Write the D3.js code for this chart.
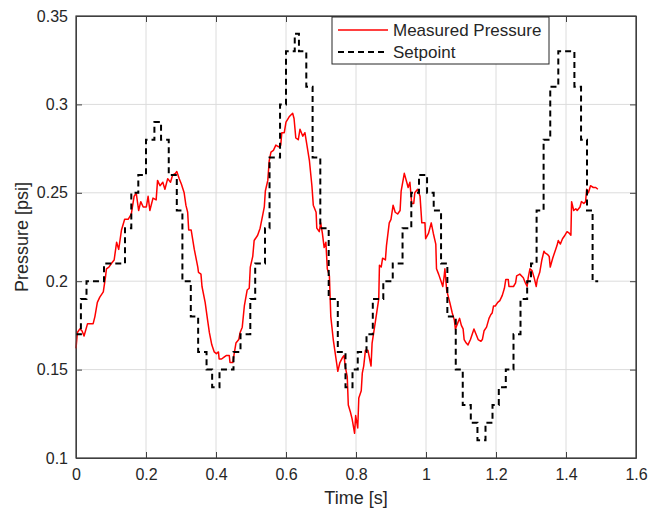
<!DOCTYPE html>
<html lang="en">
<head>
<meta charset="UTF-8">
<title>Pressure vs Setpoint</title>
<script src="https://d3js.org/d3.v7.min.js"></script>
<style>
  body { margin: 0; background: #fff; }
  svg text { font-family: "Liberation Sans", Arial, sans-serif; fill: #262626; }
</style>
</head>
<body>
<svg id="chart"></svg>
<script>
// measured pressure samples [s], [psi]
var timeMeasured = [0.000,0.004,0.011,0.017,0.023,0.033,0.049,0.054,0.061,0.068,0.078,0.084,0.087,0.094,0.101,0.109,0.116,0.122,0.130,0.139,
  0.149,0.158,0.166,0.172,0.179,0.185,0.192,0.201,0.206,0.211,0.220,0.229,0.233,0.240,0.248,0.254,0.262,0.270,0.276,0.284,
  0.288,0.295,0.301,0.309,0.314,0.319,0.322,0.329,0.338,0.348,0.350,0.357,0.360,0.369,0.376,0.381,0.388,0.395,0.401,0.407,
  0.409,0.416,0.423,0.430,0.438,0.440,0.448,0.452,0.457,0.465,0.469,0.475,0.481,0.489,0.495,0.498,0.505,0.509,0.519,0.526,
  0.533,0.538,0.541,0.548,0.552,0.557,0.564,0.571,0.579,0.585,0.588,0.595,0.600,0.609,0.619,0.623,0.628,0.635,0.640,0.648,
  0.654,0.659,0.667,0.674,0.678,0.686,0.688,0.695,0.699,0.704,0.709,0.714,0.718,0.724,0.728,0.735,0.743,0.748,0.754,0.762,
  0.766,0.769,0.775,0.778,0.784,0.789,0.796,0.799,0.805,0.808,0.815,0.818,0.822,0.827,0.834,0.839,0.843,0.846,0.853,0.859,
  0.865,0.867,0.872,0.876,0.884,0.887,0.895,0.900,0.906,0.912,0.919,0.926,0.929,0.938,0.945,0.949,0.954,0.959,0.965,0.968,
  0.976,0.983,0.988,0.997,0.999,1.007,1.015,1.021,1.028,1.030,1.036,1.043,1.048,1.052,1.054,1.059,1.064,1.068,1.075,1.081,
  1.084,1.090,1.096,1.101,1.106,1.109,1.115,1.120,1.127,1.137,1.143,1.149,1.157,1.161,1.166,1.173,1.180,1.185,1.189,1.193,
  1.198,1.205,1.211,1.218,1.224,1.228,1.235,1.237,1.250,1.256,1.259,1.268,1.278,1.284,1.289,1.292,1.297,1.303,1.309,1.315,
  1.318,1.325,1.331,1.337,1.340,1.348,1.352,1.355,1.362,1.367,1.374,1.378,1.384,1.390,1.397,1.403,1.410,1.414,1.416,1.422,
  1.428,1.432,1.440,1.444,1.451,1.456,1.459,1.464,1.470,1.478,1.485,1.491];
var pressureMeasured = [0.162,0.171,0.173,0.172,0.169,0.176,0.176,0.180,0.188,0.191,0.194,0.202,0.207,0.208,0.210,0.212,0.222,0.218,0.229,0.235,
  0.235,0.238,0.248,0.250,0.240,0.245,0.242,0.242,0.248,0.240,0.247,0.246,0.257,0.254,0.256,0.252,0.258,0.256,0.260,0.261,
  0.262,0.258,0.255,0.250,0.243,0.239,0.229,0.229,0.218,0.208,0.205,0.204,0.197,0.188,0.178,0.171,0.164,0.160,0.159,0.160,
  0.156,0.156,0.157,0.158,0.158,0.154,0.154,0.159,0.165,0.167,0.171,0.174,0.186,0.195,0.196,0.208,0.214,0.223,0.226,0.230,
  0.237,0.242,0.251,0.257,0.268,0.273,0.274,0.277,0.276,0.277,0.284,0.284,0.290,0.293,0.295,0.292,0.281,0.280,0.286,0.282,
  0.284,0.278,0.268,0.254,0.243,0.239,0.230,0.228,0.233,0.227,0.219,0.222,0.207,0.203,0.180,0.167,0.156,0.149,0.154,0.157,
  0.158,0.152,0.146,0.130,0.126,0.122,0.114,0.124,0.117,0.134,0.138,0.148,0.152,0.161,0.161,0.156,0.152,0.165,0.174,0.182,
  0.190,0.209,0.208,0.213,0.212,0.220,0.233,0.235,0.243,0.239,0.238,0.240,0.251,0.261,0.256,0.253,0.256,0.244,0.244,0.250,
  0.252,0.248,0.233,0.233,0.224,0.227,0.233,0.227,0.221,0.207,0.204,0.200,0.197,0.203,0.207,0.195,0.191,0.188,0.182,0.178,
  0.173,0.176,0.179,0.175,0.173,0.167,0.165,0.164,0.167,0.173,0.170,0.167,0.166,0.167,0.172,0.174,0.179,0.181,0.182,0.186,
  0.186,0.188,0.189,0.192,0.196,0.201,0.201,0.197,0.197,0.199,0.203,0.204,0.202,0.199,0.197,0.202,0.207,0.206,0.202,0.197,
  0.201,0.205,0.212,0.217,0.216,0.215,0.214,0.208,0.213,0.216,0.220,0.223,0.221,0.224,0.226,0.228,0.227,0.226,0.245,0.240,
  0.241,0.240,0.242,0.245,0.244,0.245,0.252,0.250,0.254,0.253,0.253,0.252];

// setpoint: value held from each time until the next one
var timeSetpoint = [0.000,0.014,0.030,0.080,0.140,0.158,0.178,0.200,0.224,0.243,0.265,0.288,0.304,0.328,0.349,0.373,0.389,0.410,0.450,0.470,
  0.498,0.512,0.540,0.553,0.583,0.600,0.625,0.637,0.658,0.676,0.698,0.722,0.748,0.770,0.790,0.805,0.830,0.848,0.878,0.905,
  0.933,0.958,0.980,1.003,1.022,1.043,1.061,1.085,1.105,1.128,1.147,1.170,1.190,1.208,1.228,1.250,1.270,1.289,1.300,1.316,
  1.336,1.355,1.378,1.424,1.443,1.460,1.476,1.492];
var valueSetpoint = [0.17,0.19,0.20,0.21,0.23,0.25,0.26,0.28,0.29,0.28,0.26,0.24,0.20,0.18,0.16,0.15,0.14,0.15,0.16,0.17,
  0.19,0.21,0.23,0.27,0.30,0.33,0.34,0.33,0.31,0.27,0.23,0.19,0.16,0.14,0.15,0.16,0.17,0.19,0.20,0.21,
  0.23,0.25,0.26,0.25,0.24,0.21,0.18,0.15,0.13,0.12,0.11,0.12,0.13,0.14,0.15,0.17,0.19,0.20,0.21,0.24,
  0.28,0.31,0.33,0.31,0.28,0.24,0.20,0.20];

var xTicks = [0, 0.2, 0.4, 0.6, 0.8, 1, 1.2, 1.4, 1.6];
var yTicks = [0.1, 0.15, 0.2, 0.25, 0.3, 0.35];
var seriesNames = ["Measured Pressure", "Setpoint"];

var width = 650, height = 516;
var margin = {top: 16, right: 14, bottom: 58, left: 76};
var w = width - margin.left - margin.right;
var h = height - margin.top - margin.bottom;

var svg = d3.select("#chart").attr("width", width).attr("height", height);
var g = svg.append("g").attr("transform", "translate(" + margin.left + "," + margin.top + ")");

var x = d3.scaleLinear().domain([0, 1.6]).range([0, w]);
var y = d3.scaleLinear().domain([0.1, 0.35]).range([h, 0]);

// grid
g.append("g").selectAll("line").data(xTicks).enter().append("line")
  .attr("x1", d => x(d)).attr("x2", d => x(d)).attr("y1", 0).attr("y2", h)
  .attr("stroke", "#dcdcdc").attr("stroke-width", 1);
g.append("g").selectAll("line").data(yTicks).enter().append("line")
  .attr("y1", d => y(d)).attr("y2", d => y(d)).attr("x1", 0).attr("x2", w)
  .attr("stroke", "#dcdcdc").attr("stroke-width", 1);

// axes, ticks pointing inward
var fmt = d3.format("~g");
g.append("g").attr("transform", "translate(0," + h + ")")
  .call(d3.axisBottom(x).tickValues(xTicks).tickFormat(fmt).tickSizeInner(-6).tickSizeOuter(0).tickPadding(11));
g.append("g")
  .call(d3.axisLeft(y).tickValues(yTicks).tickFormat(fmt).tickSizeInner(-6).tickSizeOuter(0).tickPadding(8));
g.append("g").call(d3.axisTop(x).tickValues(xTicks).tickFormat("").tickSizeInner(-6).tickSizeOuter(0));
g.append("g").attr("transform", "translate(" + w + ",0)")
  .call(d3.axisRight(y).tickValues(yTicks).tickFormat("").tickSizeInner(-6).tickSizeOuter(0));
g.selectAll(".domain, .tick line").attr("stroke", "#404040");
g.selectAll(".tick text").style("font-size", "16px").attr("fill", "#262626");

// data lines
var measured = timeMeasured.map((t, i) => [t, pressureMeasured[i]]);
var setpoint = timeSetpoint.map((t, i) => [t, valueSetpoint[i]]);

var line = d3.line().x(d => x(d[0])).y(d => y(d[1]));
var stepLine = d3.line().x(d => x(d[0])).y(d => y(d[1])).curve(d3.curveStepAfter);

g.append("path").datum(measured).attr("d", line)
  .attr("fill", "none").attr("stroke", "#ff0000").attr("stroke-width", 1.5).attr("stroke-linejoin", "round");
g.append("path").datum(setpoint).attr("d", stepLine)
  .attr("fill", "none").attr("stroke", "#000").attr("stroke-width", 2).attr("stroke-dasharray", "6,4");

// box
g.append("rect").attr("x", 0).attr("y", 0).attr("width", w).attr("height", h)
  .attr("fill", "none").attr("stroke", "#404040").attr("stroke-width", 1.2);

// axis labels
svg.append("text").attr("x", margin.left + w / 2).attr("y", 504)
  .attr("text-anchor", "middle").style("font-size", "18px").text("Time [s]");
svg.append("text").attr("transform", "translate(28," + (margin.top + h / 2) + ")rotate(-90)")
  .attr("text-anchor", "middle").style("font-size", "18px").text("Pressure [psi]");

// legend
var legend = svg.append("g").attr("transform", "translate(332,17)");
legend.append("rect").attr("width", 217).attr("height", 47)
  .attr("fill", "#fff").attr("stroke", "#262626").attr("stroke-width", 1);
var items = legend.selectAll("g.item").data(seriesNames).enter().append("g")
  .attr("class", "item").attr("transform", (d, i) => "translate(0," + (13 + i * 22) + ")");
items.append("line").attr("x1", 6).attr("x2", 56).attr("y1", 0).attr("y2", 0)
  .attr("stroke", (d, i) => i === 0 ? "#ff0000" : "#000")
  .attr("stroke-width", (d, i) => i === 0 ? 1.5 : 2)
  .attr("stroke-dasharray", (d, i) => i === 0 ? null : "6,4");
items.append("text").attr("x", 61).attr("y", 0).attr("dy", "0.35em")
  .style("font-size", "17px").text(d => d);
</script>
</body>
</html>
